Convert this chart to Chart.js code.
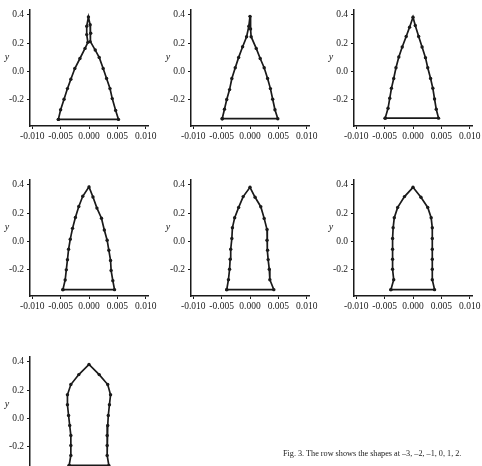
<!DOCTYPE html>
<html>
<head>
<meta charset="utf-8">
<script src="https://cdn.jsdelivr.net/npm/chart.js@4/dist/chart.umd.min.js"></script>
<style>
  html, body { margin: 0; padding: 0; background: #fff; }
  body { width: 482px; height: 466px; position: relative; overflow: hidden; }
  canvas { position: absolute; }
  #caption {
    position: absolute; left: 283px; top: 449px;
    font: 8.2px "Liberation Serif", serif; color: #1a1a1a; white-space: nowrap;
    will-change: transform; background: #fff;
  }
</style>
</head>
<body>
<canvas id="p1" width="160" height="146"></canvas>
<canvas id="p2" width="160" height="146"></canvas>
<canvas id="p3" width="160" height="146"></canvas>
<canvas id="p4" width="160" height="146"></canvas>
<canvas id="p5" width="160" height="146"></canvas>
<canvas id="p6" width="160" height="146"></canvas>
<canvas id="p7" width="160" height="146"></canvas>
<div id="caption">Fig. 3. The row shows the shapes at –3, –2, –1, 0, 1, 2.</div>
<script>
// tick labels
const xTicks = [-0.010, -0.005, 0.000, 0.005, 0.010];
const yTicks = [-0.2, 0.0, 0.2, 0.4];

// outlines: up the left side, down the right side, then the base
const shape1X = [-0.0054, -0.0050, -0.0044, -0.0038, -0.0032, -0.0025, -0.0016, -0.0007, -0.0002, -0.0004, -0.0004, -0.0001,
                 0.0002, 0.0003, 0.0002, 0.0011, 0.0018, 0.0025, 0.0031, 0.0037, 0.0041, 0.0047, 0.0052, -0.0054];
const shape1Y = [-0.343, -0.274, -0.200, -0.124, -0.057, 0.019, 0.090, 0.162, 0.205, 0.260, 0.320, 0.385,
                 0.330, 0.270, 0.210, 0.150, 0.098, 0.019, -0.052, -0.124, -0.195, -0.279, -0.343, -0.343];

const shape2X = [-0.0049, -0.0045, -0.0041, -0.0036, -0.0032, -0.0026, -0.0020, -0.0013, -0.0006, -0.0002, 0.0000,
                 0.0001, 0.0002, 0.0011, 0.0018, 0.0025, 0.0031, 0.0036, 0.0040, 0.0044, 0.0049, -0.0049];
const shape2Y = [-0.338, -0.271, -0.202, -0.131, -0.052, 0.024, 0.098, 0.174, 0.245, 0.320, 0.390,
                 0.300, 0.245, 0.162, 0.090, 0.024, -0.052, -0.124, -0.200, -0.274, -0.338, -0.338];

const shape3X = [-0.0049, -0.0044, -0.0041, -0.0038, -0.0034, -0.0030, -0.0025, -0.0019, -0.0012, -0.0006, 0.0000,
                 0.0004, 0.0010, 0.0016, 0.0022, 0.0026, 0.0031, 0.0035, 0.0038, 0.0041, 0.0045, -0.0049];
const shape3Y = [-0.334, -0.264, -0.193, -0.122, -0.052, 0.024, 0.101, 0.172, 0.247, 0.313, 0.384,
                 0.325, 0.247, 0.172, 0.096, 0.024, -0.052, -0.122, -0.198, -0.271, -0.334, -0.334];

const shape4X = [-0.0046, -0.0042, -0.0040, -0.0038, -0.0036, -0.0033, -0.0029, -0.0024, -0.0018, -0.0011, 0.0000,
                 0.0007, 0.0014, 0.0022, 0.0027, 0.0032, 0.0035, 0.0038, 0.0039, 0.0042, 0.0045, -0.0046];
const shape4Y = [-0.345, -0.276, -0.204, -0.132, -0.058, 0.014, 0.091, 0.168, 0.247, 0.319, 0.386,
                 0.314, 0.235, 0.163, 0.079, 0.007, -0.065, -0.137, -0.209, -0.281, -0.345, -0.345];

const shape5X = [-0.0041, -0.0038, -0.0036, -0.0035, -0.0034, -0.0032, -0.0031, -0.0027, -0.0020, -0.0012, 0.0000,
                 0.0009, 0.0019, 0.0025, 0.0030, 0.0030, 0.0031, 0.0032, 0.0034, 0.0035, 0.0042, -0.0041];
const shape5Y = [-0.345, -0.274, -0.200, -0.129, -0.057, 0.019, 0.095, 0.167, 0.240, 0.317, 0.383,
                 0.312, 0.245, 0.162, 0.083, 0.007, -0.064, -0.131, -0.200, -0.274, -0.345, -0.345];

const shape6X = [-0.0039, -0.0034, -0.0036, -0.0036, -0.0036, -0.0036, -0.0035, -0.0033, -0.0027, -0.0015, 0.0000,
                 0.0014, 0.0026, 0.0032, 0.0034, 0.0034, 0.0034, 0.0034, 0.0034, 0.0034, 0.0038, -0.0039];
const shape6Y = [-0.345, -0.274, -0.200, -0.129, -0.057, 0.019, 0.095, 0.167, 0.240, 0.317, 0.383,
                 0.312, 0.240, 0.167, 0.095, 0.019, -0.057, -0.129, -0.200, -0.274, -0.345, -0.345];

const shape7X = [-0.0035, -0.0032, -0.0032, -0.0032, -0.0034, -0.0036, -0.0038, -0.0038, -0.0032, -0.0018, 0.0000,
                 0.0018, 0.0033, 0.0038, 0.0036, 0.0034, 0.0033, 0.0032, 0.0032, 0.0032, 0.0035, -0.0035];
const shape7Y = [-0.336, -0.265, -0.194, -0.123, -0.052, 0.019, 0.095, 0.166, 0.239, 0.310, 0.382,
                 0.310, 0.239, 0.166, 0.095, 0.019, -0.052, -0.123, -0.194, -0.265, -0.336, -0.336];

const ink = '#1a1a1a';
const tickFont = { family: 'Liberation Serif', size: 9.5 };

// draws the upright italic "y" beside the axis
const yLabel = {
  id: 'yLabel',
  afterDraw(chart) {
    const c = chart.ctx;
    c.save();
    c.font = 'italic 10px "Liberation Serif"';
    c.fillStyle = ink;
    c.textAlign = 'center';
    c.textBaseline = 'middle';
    c.fillText('y', 7, chart.scales.y.getPixelForValue(0.1));
    c.restore();
  }
};

function makePanel(id, xs, ys, left, top) {
  const canvas = document.getElementById(id);
  canvas.style.left = left + 'px';
  canvas.style.top = top + 'px';
  const pts = xs.map((x, i) => ({ x: x, y: ys[i] }));
  return new Chart(canvas.getContext('2d'), {
    type: 'scatter',
    data: {
      datasets: [{
        data: pts,
        showLine: true,
        borderColor: ink,
        borderWidth: 1.7,
        backgroundColor: ink,
        pointRadius: 1.7,
        pointBorderWidth: 0,
        pointBackgroundColor: ink,
        tension: 0
      }]
    },
    options: {
      responsive: false,
      animation: false,
      devicePixelRatio: 1,
      layout: { padding: { top: 10, right: 12, left: 0, bottom: 0 } },
      plugins: { legend: { display: false }, tooltip: { enabled: false } },
      scales: {
        x: {
          type: 'linear',
          min: -0.0104,
          max: 0.0104,
          afterBuildTicks: s => { s.ticks = xTicks.map(v => ({ value: v })); },
          afterFit: s => { s.height = 20; },
          ticks: { callback: v => v.toFixed(3), font: tickFont, color: ink, padding: 2, autoSkip: false, maxRotation: 0 },
          grid: { display: true, drawOnChartArea: false, drawTicks: true, tickLength: 3, color: ink },
          border: { display: true, color: ink, width: 1.5 }
        },
        y: {
          type: 'linear',
          min: -0.39,
          max: 0.435,
          afterBuildTicks: s => { s.ticks = yTicks.map(v => ({ value: v })); },
          afterFit: s => { s.width = 30; },
          ticks: { callback: v => v.toFixed(1), font: tickFont, color: ink, padding: 3, autoSkip: false },
          grid: { display: true, drawOnChartArea: false, drawTicks: true, tickLength: 3, color: ink },
          border: { display: true, color: ink, width: 1.5 }
        }
      }
    },
    plugins: [yLabel]
  });
}

makePanel('p1', shape1X, shape1Y, 0, 0);
makePanel('p2', shape2X, shape2Y, 161, 0);
makePanel('p3', shape3X, shape3Y, 324, 0);
makePanel('p4', shape4X, shape4Y, 0, 170);
makePanel('p5', shape5X, shape5Y, 161, 170);
makePanel('p6', shape6X, shape6Y, 324, 170);
makePanel('p7', shape7X, shape7Y, 0, 347);
</script>
</body>
</html>
